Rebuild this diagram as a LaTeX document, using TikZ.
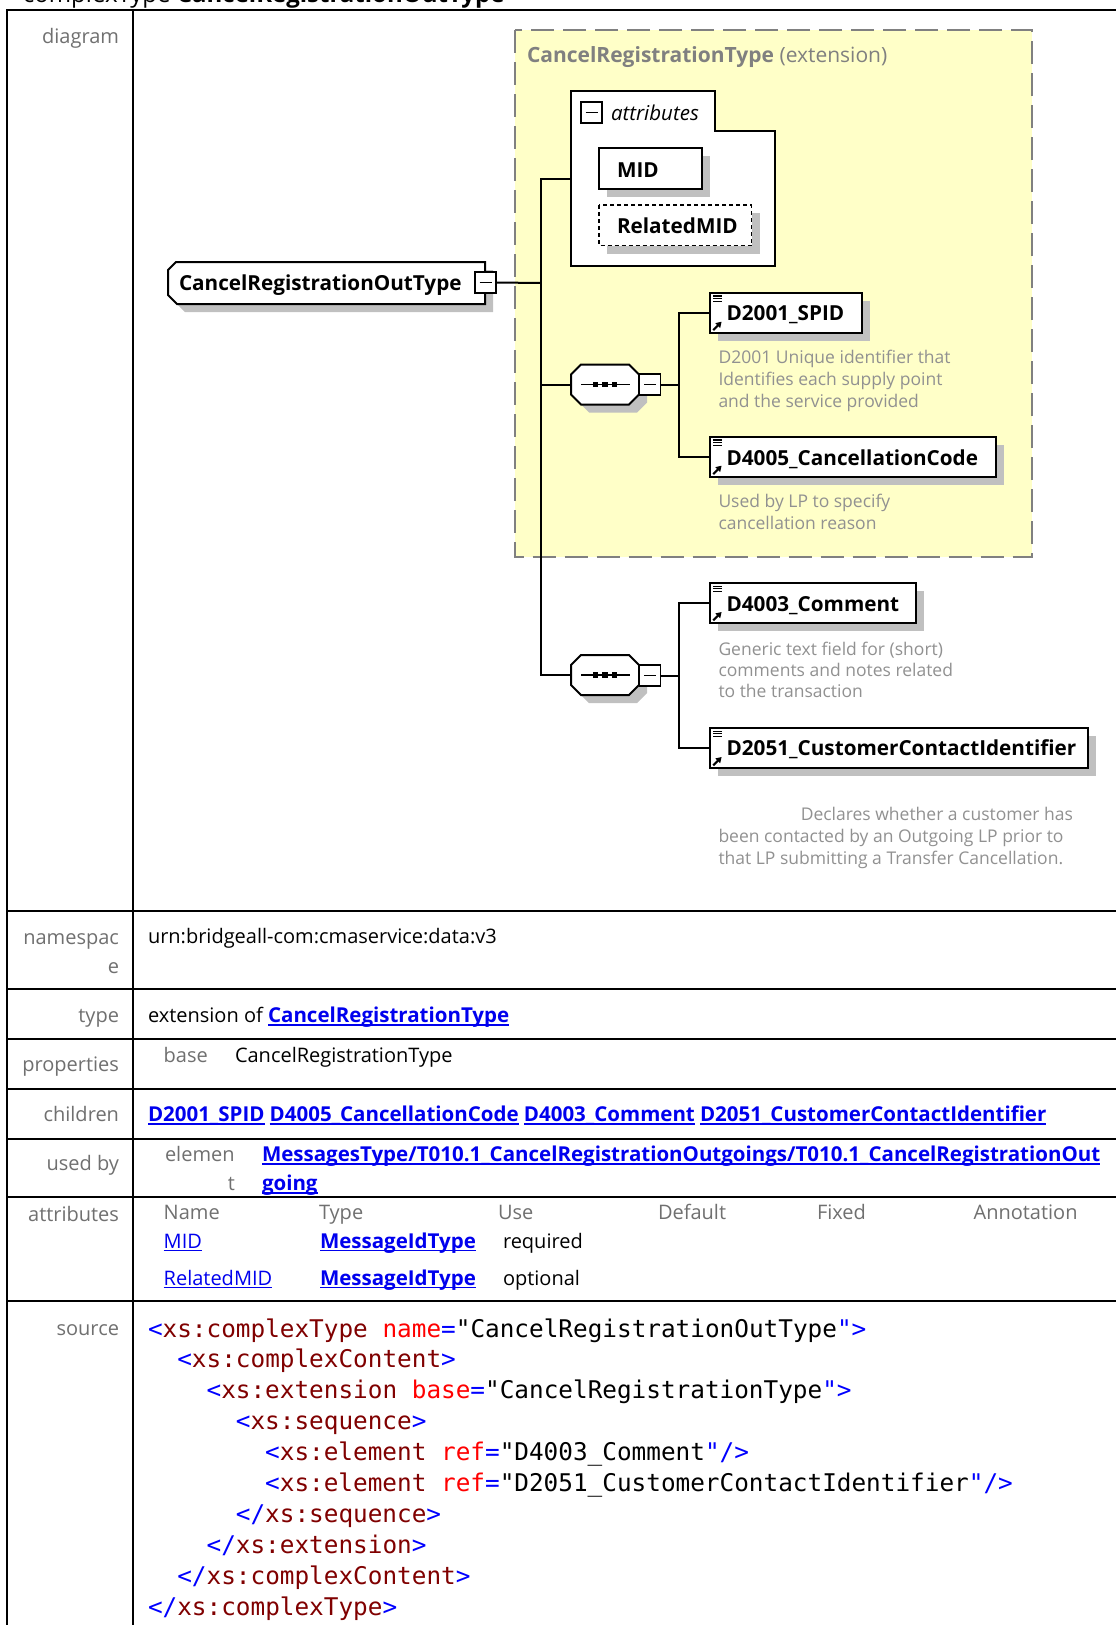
\documentclass[tikz,border=0pt]{standalone}
\usepackage{fontspec}
\setmainfont{Open Sans}
\setmonofont{DejaVu Sans Mono}
\usetikzlibrary{arrows.meta}
\definecolor{lblgray}{RGB}{112,112,112}
\definecolor{descgray}{RGB}{145,145,145}
\definecolor{yel}{RGB}{255,255,200}
\definecolor{dashgray}{RGB}{128,128,128}
\definecolor{shad}{RGB}{192,192,192}
\definecolor{lnk}{RGB}{0,0,238}
\definecolor{xblue}{RGB}{0,0,255}
\definecolor{xmaroon}{RGB}{128,0,0}
\definecolor{xred}{RGB}{255,0,0}
\newcommand\ulink[1]{{\color{lnk}\setbox0=\hbox{#1}\rlap{\rule[-3pt]{\wd0}{1.4pt}}\box0}}
\newcommand\lb[1]{{\fontsize{20.5}{24}\selectfont\bfseries #1}}
\newcommand\xlt[1]{\textcolor{xblue}{#1}}
\newcommand\xtag[1]{\textcolor{xmaroon}{#1}}
\newcommand\xatt[1]{\textcolor{xred}{#1}}
\newcommand\mainpath{([xshift=8pt]mainnode.north west) -- (mainnode.north east) -- (mainnode.south east) -- ([xshift=9pt]mainnode.south west) -- ([yshift=9pt]mainnode.south west) -- ([yshift=-8pt]mainnode.north west) -- cycle}
\newcommand\octpath[1]{([xshift=10pt]#1.north west) -- ([xshift=-10pt]#1.north east) -- ([yshift=-10pt]#1.north east) -- ([yshift=10pt]#1.south east) -- ([xshift=-10pt]#1.south east) -- ([xshift=10pt]#1.south west) -- ([yshift=10pt]#1.south west) -- ([yshift=-10pt]#1.north west) -- cycle}
\newcommand\elicons[1]{%
 \draw[line width=1.2pt] ([shift={(3.5pt,-3.2pt)}]#1.north west) -- ++(9,0);
 \draw[line width=1.2pt] ([shift={(3.5pt,-5.8pt)}]#1.north west) -- ++(9,0);
 \draw[line width=1.2pt] ([shift={(3.5pt,-8.4pt)}]#1.north west) -- ++(9,0);
 \draw[line width=2.2pt, -{Triangle[length=5.5pt,width=6.5pt]}] ([shift={(3.6pt,2.6pt)}]#1.south west) -- ([shift={(12pt,11pt)}]#1.south west);}
\newcommand\expander[1]{%
 \draw[expst] (#1.north west) rectangle (#1.south east);
 \draw[line width=1.4pt] ([xshift=-6pt]#1.center) -- ([xshift=6pt]#1.center);}
\newcommand\seqdots[1]{%
 \draw[line width=1.5pt] ([xshift=10pt]#1.west) -- ([xshift=-9pt]#1.east);
 \foreach \dx in {-9.5,0,9.5} \fill ([xshift=\dx pt]#1.center) ++(-2.6,-2.6) rectangle ++(5.2,5.2);}
\tikzset{
 placebox/.style={rectangle, draw=none, inner sep=0pt, outer sep=0pt},
 tbl/.style={line width=2pt, black},
 lbl/.style={font=\fontsize{20}{24}\selectfont, text=lblgray, anchor=base east},
 lblw/.style={font=\fontsize{20}{24}\selectfont, text=lblgray, anchor=base west},
 val/.style={font=\fontsize{20}{24}\selectfont, text=black, anchor=base west},
 desc/.style={font=\fontsize{17.5}{21}\selectfont, text=descgray, anchor=base west},
 eltext/.style={font=\fontsize{20.7}{24}\selectfont\bfseries, text=black, anchor=base west},
 code/.style={font=\ttfamily\fontsize{24.35}{29}\selectfont, anchor=base west},
 box/.style={draw=black, line width=2pt, fill=white},
 conn/.style={draw=black, line width=2pt},
 expst/.style={draw=black, line width=1.6pt, fill=white},
}
\begin{document}
\begin{tikzpicture}[x=1pt,y=-1pt, every node/.style={inner sep=0pt, outer sep=0pt}]
\useasboundingbox (0,0) rectangle (1116,1625);
\clip (0,0) rectangle (1116,1625);
\fill[white] (0,0) rectangle (1116,1625);

% ---------- title and table ----------
\node[anchor=base west, font=\fontsize{24}{28}\selectfont] (title) at (23,2.5) {complexType \textbf{CancelRegistrationOutType}};
\draw[tbl] (7.3,10) -- (1116,10);
\draw[tbl] (7.3,9) -- (7.3,1625);
\draw[tbl] (133,10) -- (133,1625);
\foreach \yy in {911,989,1039,1089,1139,1197,1301} \draw[tbl] (7.3,\yy) -- (1116,\yy);

\node[lbl] (ldiag) at (119,43) {diagram};
\node[lbl] (lns1) at (119,944) {namespac};
\node[lbl] (lns2) at (119,973) {e};
\node[val] (vns) at (148,943) {urn:bridgeall-com:cmaservice:data:v3};
\node[lbl] (ltype) at (119,1022.7) {type};
\node[val] (vtype) at (148,1022.7) {extension of \ulink{\lb{CancelRegistrationType}}};
\node[lbl] (lprop) at (119,1071.7) {properties};
\node[lblw] (pbase) at (163.7,1062) {base};
\node[val] (vbase) at (235,1062) {CancelRegistrationType};
\node[lbl] (lchild) at (119,1121.7) {children};
\node[val] (vchild) at (148,1121.7) {\ulink{\lb{D2001\_SPID}} \ulink{\lb{D4005\_CancellationCode}} \ulink{\lb{D4003\_Comment}} \ulink{\lb{D2051\_CustomerContactIdentifier}}};
\node[lbl] (lused) at (119,1170.6) {used by};
\node[lblw] (uel1) at (165,1161.7) {elemen};
\node[lbl] (uel2) at (235,1190.7) {t};
\node[val] (ulnk1) at (262,1161.7) {\ulink{\lb{MessagesType/T010.1\_CancelRegistrationOutgoings/T010.1\_CancelRegistrationOut}}};
\node[val] (ulnk2) at (262,1190.7) {\ulink{\lb{going}}};
\node[lbl] (lattr) at (119,1221.7) {attributes};
\node[lblw] (hname) at (163.7,1219.3) {Name};
\node[lblw] (htype) at (319,1219.3) {Type};
\node[lblw] (huse) at (498,1219.3) {Use};
\node[lblw] (hdef) at (658,1219.3) {Default};
\node[lblw] (hfix) at (817,1219.3) {Fixed};
\node[lblw] (hann) at (973.6,1219.3) {Annotation};
\node[val] (a1n) at (163.7,1248.3) {\ulink{MID}};
\node[val] (a1t) at (320,1248.3) {\ulink{\lb{MessageIdType}}};
\node[val] (a1u) at (503,1248.3) {required};
\node[val] (a2n) at (163.7,1285) {\ulink{RelatedMID}};
\node[val] (a2t) at (320,1285) {\ulink{\lb{MessageIdType}}};
\node[val] (a2u) at (503,1285) {optional};
\node[lbl] (lsrc) at (119,1335) {source};

% ---------- source ----------
\node[code] (c1) at (148,1337) {\xlt{<}\xtag{xs:complexType} \xatt{name}\xlt{=}"CancelRegistrationOutType\xlt{">}};
\node[code] (c2) at (177.3,1367.9) {\xlt{<}\xtag{xs:complexContent}\xlt{>}};
\node[code] (c3) at (206.6,1398.8) {\xlt{<}\xtag{xs:extension} \xatt{base}\xlt{=}"CancelRegistrationType\xlt{">}};
\node[code] (c4) at (235.9,1429.7) {\xlt{<}\xtag{xs:sequence}\xlt{>}};
\node[code] (c5) at (265.2,1460.6) {\xlt{<}\xtag{xs:element} \xatt{ref}\xlt{=}"D4003\_Comment\xlt{"/>}};
\node[code] (c6) at (265.2,1491.5) {\xlt{<}\xtag{xs:element} \xatt{ref}\xlt{=}"D2051\_CustomerContactIdentifier\xlt{"/>}};
\node[code] (c7) at (235.9,1522.4) {\xlt{</}\xtag{xs:sequence}\xlt{>}};
\node[code] (c8) at (206.6,1553.3) {\xlt{</}\xtag{xs:extension}\xlt{>}};
\node[code] (c9) at (177.3,1584.2) {\xlt{</}\xtag{xs:complexContent}\xlt{>}};
\node[code] (c10) at (148,1615.1) {\xlt{</}\xtag{xs:complexType}\xlt{>}};

% ---------- diagram: positions ----------
\node[placebox, minimum width=517, minimum height=526.5, anchor=north west] (ext) at (515,30) {};
\node[placebox, minimum width=204, minimum height=175, anchor=north west] (attr) at (571,91) {};
\node[placebox, minimum width=103, minimum height=41, anchor=north west] (mid) at (599,148) {};
\node[placebox, minimum width=152.5, minimum height=40.5, anchor=north west] (rmid) at (599,205) {};
\node[placebox, minimum width=317, minimum height=42, anchor=north west] (mainnode) at (168,262) {};
\node[placebox, minimum width=68, minimum height=40, anchor=north west] (seq1) at (571,364.5) {};
\node[placebox, minimum width=68, minimum height=40, anchor=north west] (seq2) at (571,655) {};
\node[placebox, minimum width=152, minimum height=40, anchor=north west] (spid) at (709.6,292.7) {};
\node[placebox, minimum width=286.4, minimum height=40, anchor=north west] (canc) at (709.6,436.7) {};
\node[placebox, minimum width=206.4, minimum height=40, anchor=north west] (comm) at (709.6,583) {};
\node[placebox, minimum width=378.4, minimum height=40, anchor=north west] (cust) at (709.6,728) {};
\node[placebox, minimum size=21] (mainexp) at (485.5,282.5) {};
\node[placebox, minimum size=21] (attrexp) at (591.5,112.5) {};
\node[placebox, minimum size=21] (seq1exp) at (650,384.5) {};
\node[placebox, minimum size=21] (seq2exp) at (650,675.5) {};
\coordinate (busx) at (541,283);
\coordinate (bus1) at (679,385);
\coordinate (bus2) at (679,675.5);

% extension box
\draw[fill=yel, draw=dashgray, line width=2pt, dash pattern=on 23pt off 9pt] (ext.north west) rectangle (ext.south east);
\node[anchor=base west, font=\fontsize{21}{24}\selectfont, text=dashgray] (extlbl) at ([xshift=12pt,yshift=-32.7pt]ext.north west) {\textbf{CancelRegistrationType} (extension)};

% connectors
\draw[conn] (mainexp.east) -- (busx);
\draw[conn] (attr.west) -| (seq2.west -| busx) -- (seq2.west);
\draw[conn] (seq1.west) -- (seq1.west -| busx);
\draw[conn] (seq1exp.east) -- (seq1exp.east -| bus1);
\draw[conn] (spid.west) -| (bus1) |- (canc.west);
\draw[conn] (seq2exp.east) -- (seq2exp.east -| bus2);
\draw[conn] (comm.west) -| (bus2) |- (cust.west);

% shadows
\begin{scope}[transform canvas={shift={(8pt,-8pt)}}]
\fill[shad] \mainpath;
\fill[shad] \octpath{seq1};
\fill[shad] \octpath{seq2};
\fill[shad] (spid.north west) rectangle (spid.south east);
\fill[shad] (canc.north west) rectangle (canc.south east);
\fill[shad] (comm.north west) rectangle (comm.south east);
\fill[shad] (cust.north west) rectangle (cust.south east);
\end{scope}

% shapes
\draw[box] \mainpath;
\draw[box] \octpath{seq1};
\draw[box] \octpath{seq2};
\draw[box] (spid.north west) rectangle (spid.south east);
\draw[box] (canc.north west) rectangle (canc.south east);
\draw[box] (comm.north west) rectangle (comm.south east);
\draw[box] (cust.north west) rectangle (cust.south east);
\draw[box] (attr.north west) -- ([xshift=144pt]attr.north west) -- ([xshift=144pt,yshift=-39.6pt]attr.north west) -- ([yshift=-39.6pt]attr.north east) -- (attr.south east) -- (attr.south west) -- cycle;
\begin{scope}[transform canvas={shift={(8pt,-8pt)}}]
\fill[shad] (mid.north west) rectangle (mid.south east);
\fill[shad] (rmid.north west) rectangle (rmid.south east);
\end{scope}
\draw[box] (mid.north west) rectangle (mid.south east);
\draw[box, line width=1.6pt, dash pattern=on 4pt off 3pt] (rmid.north west) rectangle (rmid.south east);

\seqdots{seq1}
\seqdots{seq2}
\expander{mainexp}
\expander{attrexp}
\expander{seq1exp}
\expander{seq2exp}
\elicons{spid}
\elicons{canc}
\elicons{comm}
\elicons{cust}

% texts
\node[eltext] (maint) at ([xshift=11pt,yshift=-7.7pt]mainnode.west) {CancelRegistrationOutType};
\node[eltext] (midt) at ([xshift=18pt,yshift=-8.5pt]mid.west) {MID};
\node[eltext] (rmidt) at ([xshift=18pt,yshift=-7.8pt]rmid.west) {RelatedMID};
\node[anchor=base west, font=\fontsize{20.5}{24}\selectfont\itshape] (attrt) at ([xshift=9pt,yshift=-7.5pt]attrexp.east) {attributes};
\node[eltext] (spidt) at ([xshift=17pt,yshift=-8pt]spid.west) {D2001\_SPID};
\node[eltext] (canct) at ([xshift=17pt,yshift=-8.3pt]canc.west) {D4005\_CancellationCode};
\node[eltext] (commt) at ([xshift=17pt,yshift=-8.7pt]comm.west) {D4003\_Comment};
\node[eltext] (custt) at ([xshift=17pt,yshift=-7.7pt]cust.west) {D2051\_CustomerContactIdentifier};

\node[desc] (d1a) at (718.5,363.3) {D2001 Unique identifier that};
\node[desc] (d1b) at (718.5,385.3) {Identifies each supply point};
\node[desc] (d1c) at (718.5,407) {and the service provided};
\node[desc] (d2a) at (718.5,507.7) {Used by LP to specify};
\node[desc] (d2b) at (718.5,529.3) {cancellation reason};
\node[desc] (d3a) at (718.5,655) {Generic text field for (short)};
\node[desc] (d3b) at (718.5,676.7) {comments and notes related};
\node[desc] (d3c) at (718.5,697.7) {to the transaction};
\node[desc, anchor=base east] (d4a) at (1073,820) {Declares whether a customer has};
\node[desc] (d4b) at (718.5,842.3) {been contacted by an Outgoing LP prior to};
\node[desc] (d4c) at (718.5,864) {that LP submitting a Transfer Cancellation.};
\end{tikzpicture}
\end{document}
